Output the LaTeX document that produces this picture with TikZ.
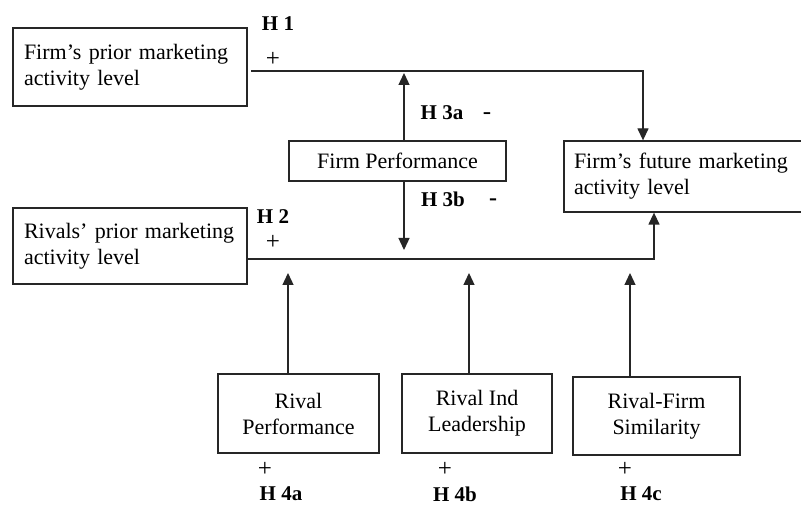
\documentclass[tikz,border=0pt]{standalone}
\usepackage{fontspec}
\setmainfont{Liberation Serif}
\usetikzlibrary{arrows.meta}
\begin{document}
\begin{tikzpicture}[x=1pt,y=-1pt,
  box/.style={draw=black!85, line width=1.3pt, inner sep=0pt, font=\fontsize{22}{26}\selectfont},
  lbox/.style={box, align=left},
  cbox/.style={box, align=center},
  conn/.style={draw=black!85, line width=1.3pt},
  arr/.style={conn, -{Triangle[length=12pt,width=11pt]}},
  hlab/.style={font=\fontsize{21}{24}\selectfont\bfseries, inner sep=0pt},
  sign/.style={font=\fontsize{25}{28}\selectfont, inner sep=0pt},
  bsign/.style={font=\fontsize{24}{28}\selectfont\bfseries, inner sep=0pt}]
\useasboundingbox (0,0) rectangle (801,505);
\clip (0,0) rectangle (801,505);
\fill[white] (0,0) rectangle (801,505);
% boxes
\node[lbox, minimum width=234pt, minimum height=78pt, text width=212pt] (b1) at (130,67) {Firm’s prior marketing\\activity level};
\node[lbox, minimum width=234pt, minimum height=76pt, text width=212pt] (b2) at (130,246) {Rivals’ prior marketing\\activity level};
\node[lbox, minimum width=246pt, minimum height=71pt, text width=226pt] (fut) at (687,176.5) {Firm’s future marketing\\activity level};
\node[cbox, minimum width=217pt, minimum height=40pt] (fp) at (397.5,161) {Firm Performance};
\node[cbox, minimum width=161pt, minimum height=79pt] (rp) at (298.5,413.5) {Rival\\Performance};
\node[cbox, minimum width=150pt, minimum height=79pt] (ri) at (477,413.5) {Rival Ind\\Leadership};
\node[cbox, minimum width=167pt, minimum height=78pt] (rf) at (656.5,416) {Rival-Firm\\Similarity};
% connectors
\coordinate (t0) at (251,71);
\coordinate (t1) at (643,71);
\draw[arr] (t0) -- (t1) -- (t1 |- fut.north);
\coordinate (h3a) at (404,73);
\draw[arr] (h3a |- fp.north) -- (h3a);
\coordinate (h3b) at (404,250);
\draw[arr] (h3b |- fp.south) -- (h3b);
\coordinate (r1) at (654,259);
\draw[arr] (b2.east |- r1) -- (r1) -- (r1 |- fut.south);
\coordinate (p1) at (288,273);
\coordinate (p2) at (469,273);
\coordinate (p3) at (630,273);
\draw[arr] (p1 |- rp.north) -- (p1);
\draw[arr] (p2 |- ri.north) -- (p2);
\draw[arr] (p3 |- rf.north) -- (p3);
% labels
\node[hlab] (H1) at (278,24) {H 1};
\node[sign] (s1) at (273,59) {+};
\node[hlab] (H3a) at (442,113) {H 3a};
\node[sign] (s3a) at (487,116) {-};
\node[hlab] (H3b) at (443,199) {H 3b};
\node[bsign] (s3b) at (493,202) {-};
\node[hlab] (H2) at (273,217) {H 2};
\node[sign] (s2) at (273,242) {+};
\node[sign] (s4a) at (265,469) {+};
\node[sign] (s4b) at (445,469) {+};
\node[sign] (s4c) at (625,469) {+};
\node[hlab] (H4a) at (281,494) {H 4a};
\node[hlab] (H4b) at (455,494) {H 4b};
\node[hlab] (H4c) at (641,494) {H 4c};
\end{tikzpicture}
\end{document}
